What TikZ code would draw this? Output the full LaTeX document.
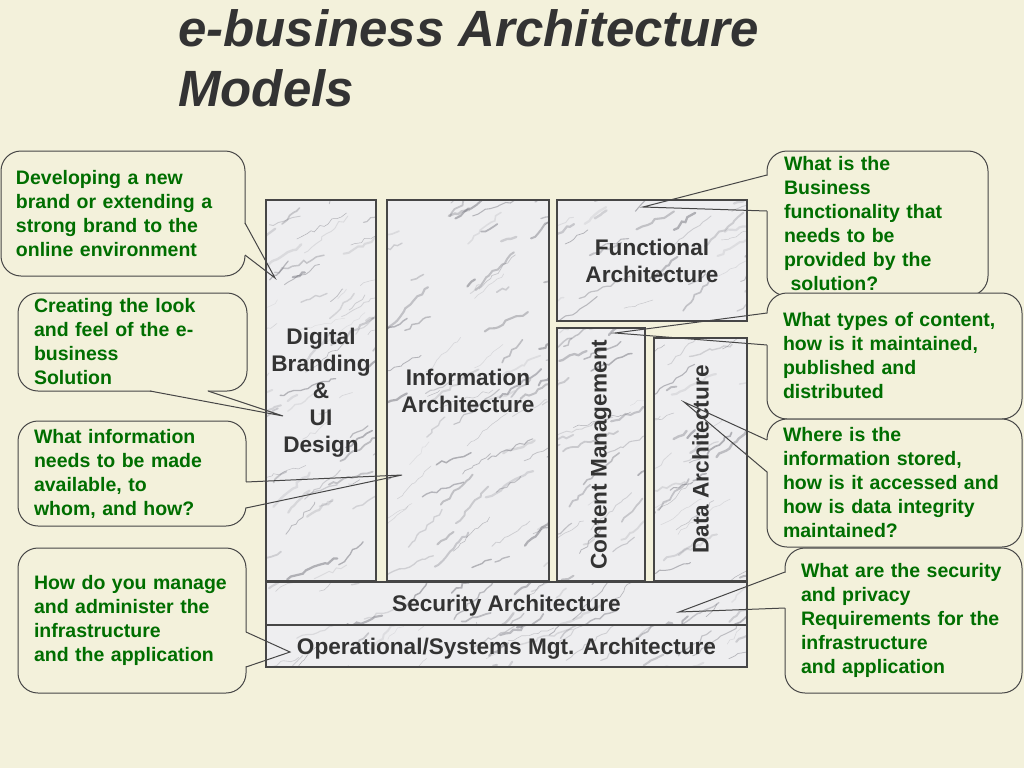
\documentclass[tikz,border=0pt]{standalone}
\usepackage{fontspec}
\usepackage{graphicx}
\setmainfont{Liberation Sans}
\usetikzlibrary{calc}
\usetikzlibrary{decorations.pathmorphing}
\definecolor{paper}{RGB}{243,241,219}
\definecolor{lineclr}{RGB}{70,70,70}
\definecolor{greentext}{RGB}{0,110,0}
\definecolor{marble}{RGB}{238,238,240}
\definecolor{veinclr}{RGB}{95,95,105}
\definecolor{boxtext}{RGB}{51,51,51}
\newcommand{\nohyph}{\hyphenpenalty 10000\relax}
\newcommand{\veins}{%
  \foreach \k in {1,...,220}{%
    \pgfmathsetmacro{\vx}{500*rnd-250}%
    \pgfmathsetmacro{\vy}{400*rnd-200}%
    \pgfmathsetmacro{\va}{15+35*rnd}%
    \pgfmathsetmacro{\vl}{10+50*rnd}%
    \pgfmathsetmacro{\vw}{0.4+2*rnd}%
    \pgfmathsetmacro{\vo}{0.1+0.35*rnd}%
    \path (path picture bounding box.center) ++(\vx,\vy) coordinate (v);
    \draw[vein,line width=\vw pt,opacity=\vo] (v) -- ++(-\va:\vl);
  }}
\tikzset{%
  bubble/.style = {draw=lineclr,fill=paper,line width=1pt,rounded corners=20pt,
        anchor=north west,inner ysep=0pt,outer sep=0pt,align=left,
        text=greentext,font={\fontsize{19.5}{24}\selectfont\bfseries\nohyph}},
  marblebox/.style = {draw=lineclr,fill=marble,line width=1.2pt,anchor=north west,
        inner sep=0pt,outer sep=0pt,align=center,text depth=0pt,
        text=boxtext,font=\fontsize{22.6}{27}\selectfont\bfseries,
        path picture={\veins}},
  vein/.style = {veinclr,line cap=round,decorate,
        decoration={random steps,segment length=5pt,amplitude=1.8pt}},
  pointer/.style = {draw=lineclr,line width=1pt},
  patch/.style = {fill=paper}
}
\begin{document}
\begin{tikzpicture}[x=1pt,y=-1pt]
   \pgfmathsetseed{42}
   \fill[paper] (0,0) rectangle (1024,768);
   \useasboundingbox (0,0) rectangle (1024,768);

   \node[anchor=north west,inner sep=0pt,align=left,text=boxtext,
         font=\fontsize{51}{60}\selectfont\bfseries\itshape] (title) at (178,9)
         {e-business Architecture\\Models};

   % callouts
   \node[bubble,minimum height=125pt,text width=214pt,inner xsep=15pt] (brand) at (1,151)
         {Developing a new\\brand or extending a\\strong brand to the\\online environment};
   \node[bubble,minimum height=98pt,text width=197pt,inner xsep=16pt] (look) at (18,293)
         {Creating the look\\and feel of the e-\\business\\Solution};
   \node[bubble,minimum height=105pt,text width=196pt,inner xsep=16pt] (whom) at (18,421)
         {What information\\needs to be made\\available, to\\whom, and how?};
   \node[bubble,minimum height=145pt,text width=196pt,inner xsep=16pt] (manage) at (18,548)
         {How do you manage\\and administer the\\infrastructure\\and the application};
   \node[bubble,minimum height=145pt,text width=187pt,inner xsep=17pt] (function) at (767,151)
         {What is the\\Business\\functionality that\\needs to be\\provided by the\\\ solution?};
   \node[bubble,minimum height=126pt,text width=223pt,inner xsep=16pt] (types) at (767,293)
         {What types of content,\\how is it maintained,\\published and\\distributed};
   \node[bubble,minimum height=128pt,text width=223pt,inner xsep=16pt] (stored) at (767,419)
         {Where is the\\information stored,\\how is it accessed and\\how is data integrity\\maintained?};
   \node[bubble,minimum height=145pt,text width=205pt,inner xsep=16pt] (privacy) at (785,548)
         {What are the security\\and privacy\\Requirements for the\\infrastructure\\and application};

   % pointer ends
   \coordinate (brand-a) at (brand.east |- 0,223);
   \coordinate (brand-b) at (brand.east |- 0,255);
   \coordinate (brand-tip) at (275,278);
   \coordinate (look-a) at (150,0 |- look.south);
   \coordinate (look-b) at (208,0 |- look.south);
   \coordinate (look-tip) at (283,416);
   \coordinate (whom-a) at (whom.east |- 0,482);
   \coordinate (whom-b) at (whom.east |- 0,508);
   \coordinate (whom-tip) at (402,475);
   \coordinate (manage-a) at (manage.east |- 0,632);
   \coordinate (manage-b) at (manage.east |- 0,667);
   \coordinate (manage-tip) at (290,652);
   \coordinate (function-a) at (function.west |- 0,175);
   \coordinate (function-b) at (function.west |- 0,211);
   \coordinate (function-tip) at (643,207);
   \coordinate (types-a) at (types.west |- 0,313);
   \coordinate (types-b) at (types.west |- 0,345);
   \coordinate (types-tip) at (615,333);
   \coordinate (stored-a) at (stored.west |- 0,440);
   \coordinate (stored-b) at (stored.west |- 0,472);
   \coordinate (stored-tip) at (684,402);
   \coordinate (privacy-a) at (privacy.west |- 0,572);
   \coordinate (privacy-b) at (privacy.west |- 0,608);
   \coordinate (privacy-tip) at (679,612);

   \foreach \c in {brand,look,whom,manage,function,types,stored,privacy}
     \fill[patch] ($(\c-a)!1.5pt!(\c.center)$) -- ($(\c-a)!4pt!(\c-tip)$)
        -- ($(\c-b)!4pt!(\c-tip)$) -- ($(\c-b)!1.5pt!(\c.center)$) -- cycle;

   % architecture blocks
   \node[marblebox,minimum width=110pt,minimum height=381pt] (branding) at (266,200)
         {Digital\\Branding\\\&\\UI\\Design};
   \node[marblebox,minimum width=162pt,minimum height=381pt] (information) at (387,200)
         {Information\\Architecture};
   \node[marblebox,minimum width=190pt,minimum height=121pt] (functional) at (557,200)
         {Functional\\Architecture};
   \node[marblebox,minimum width=88pt,minimum height=253pt] (content) at (557,328)
         {\rotatebox{90}{Content Management}};
   \node[marblebox,minimum width=93pt,minimum height=243pt] (data) at (654,338)
         {\rotatebox{90}{Data Architecture}};
   \node[marblebox,minimum width=481pt,minimum height=43pt] (security) at (266,582)
         {Security Architecture};
   \node[marblebox,minimum width=481pt,minimum height=42pt] (operational) at (266,625)
         {Operational/Systems Mgt. Architecture};

   \foreach \c in {brand,look,whom,manage,function,types,stored,privacy}
     \draw[pointer] (\c-a) -- (\c-tip) -- (\c-b);
\end{tikzpicture}
\end{document}
